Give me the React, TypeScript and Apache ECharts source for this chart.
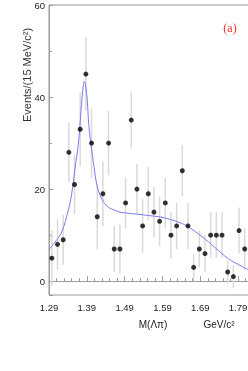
import React, { useEffect, useRef } from "react";
import * as echarts from "echarts";

const X0 = 1.29;
const xTickLabels = ["1.29", "1.39", "1.49", "1.59", "1.69", "1.79"];
const yTickLabels = ["0", "20", "40", "60"];
const binCenters = [
  1.2975, 1.3125, 1.3275, 1.3425, 1.3575, 1.3725, 1.3875, 1.4025, 1.4175, 1.4325,
  1.4475, 1.4625, 1.4775, 1.4925, 1.5075, 1.5225, 1.5375, 1.5525, 1.5675, 1.5825,
  1.5975, 1.6125, 1.6275, 1.6425, 1.6575, 1.6725, 1.6875, 1.7025, 1.7175, 1.7325,
  1.7475, 1.7625, 1.7775, 1.7925, 1.8075,
];
const events = [
  5, 8, 9, 28, 21, 33, 45, 30, 14, 19, 30, 7, 7, 17, 35, 20, 12, 19, 15, 13, 17, 10,
  12, 24, 12, 3, 7, 6, 10, 10, 10, 2, 1, 11, 7,
];
const errors = [
  6, 5.5, 5.5, 6.5, 6.5, 8, 8, 7.5, 7, 7, 7, 5, 5.3, 5.6, 6, 5.5, 5.8, 5.8, 5.5, 5.4,
  5.5, 5, 5, 5.5, 5, 3, 4, 4, 5, 5, 5, 2.5, 2.5, 5, 4.5,
];
const fitMass = [
  1.29, 1.306, 1.3236, 1.341, 1.35, 1.3588, 1.3675, 1.3747, 1.3792, 1.3834, 1.3897,
  1.3958, 1.403, 1.4072, 1.4162, 1.4294, 1.4469, 1.4646, 1.4778, 1.5395, 1.5924,
  1.6366, 1.6585, 1.694, 1.7291, 1.7643, 1.7998, 1.8164,
];
const fitValue = [
  6.9, 8.5, 10.7, 15.4, 19, 24.5, 29.8, 37, 41.3, 43.4, 40.6, 33.4, 28.5, 26, 21.1,
  17.9, 16.1, 15.4, 15, 14.4, 13.8, 12.7, 11.8, 9.7, 7.3, 4.9, 3.2, 2.5,
];

const SANS = "'Liberation Sans Narrow', 'Liberation Sans', Arial, sans-serif";

export default function App() {
  const ref = useRef<HTMLDivElement>(null);
  useEffect(() => {
    if (!ref.current) return;
    const chart = echarts.init(ref.current, null, { renderer: "svg" });
    const pts = binCenters.map((m, i) => [m - X0, events[i]]);
    const bars = binCenters.map((m, i) => [m - X0, events[i], errors[i]]);
    const fit = fitMass.map((m, i) => [m - X0, fitValue[i]]);
    chart.setOption({
      animation: false,
      grid: {
        left: 49,
        top: 3,
        width: 208,
        height: 292,
        show: true,
        borderColor: "#9a9a9a",
        borderWidth: 1,
        backgroundColor: "transparent",
      },
      xAxis: {
        type: "value",
        min: 0,
        max: 0.55,
        interval: 0.1,
        axisLine: { show: true, lineStyle: { color: "#9a9a9a", width: 1 } },
        axisTick: { show: true, inside: true, length: 5, lineStyle: { color: "#9a9a9a" } },
        minorTick: { show: true, splitNumber: 5, length: 3, lineStyle: { color: "#9a9a9a" } },
        splitLine: { show: false },
        axisLabel: {
          margin: 7,
          color: "#222",
          fontSize: 9.5,
          fontFamily: SANS,
          formatter: (v: number) => {
            const idx = Math.round(v / 0.1);
            return xTickLabels[idx] ?? "";
          },
        },
      },
      yAxis: {
        type: "value",
        min: -3,
        max: 60,
        splitNumber: 3,
        axisLine: { show: true, lineStyle: { color: "#9a9a9a", width: 1 } },
        axisTick: { show: true, inside: true, length: 4, lineStyle: { color: "#9a9a9a" } },
        minorTick: { show: true, splitNumber: 2, length: 3, lineStyle: { color: "#9a9a9a" } },
        splitLine: { show: false },
        axisLabel: {
          margin: 4,
          color: "#222",
          fontSize: 9.5,
          fontFamily: SANS,
          showMinLabel: false,
          formatter: (v: number) => {
            const idx = yTickLabels.indexOf(String(Math.round(v)));
            return Math.abs(v - Math.round(v)) < 1e-6 && idx >= 0 && v >= 0 ? yTickLabels[idx] : "";
          },
        },
      },
      series: [
        {
          type: "custom",
          data: bars,
          z: 1,
          renderItem: (params: any, api: any) => {
            const x = api.value(0);
            const y = api.value(1);
            const e = api.value(2);
            const top = api.coord([x, y + e]);
            const bot = api.coord([x, y - e]);
            return {
              type: "line",
              shape: { x1: top[0], y1: top[1], x2: bot[0], y2: bot[1] },
              style: { stroke: "#dadada", lineWidth: 1.5 },
            };
          },
        },
        {
          type: "line",
          data: fit,
          smooth: 0.4,
          showSymbol: false,
          z: 2,
          lineStyle: { color: "#7a7af2", width: 1 },
        },
        {
          type: "scatter",
          data: pts,
          symbol: "circle",
          symbolSize: 5,
          z: 3,
          itemStyle: { color: "#000" },
        },
      ],
      graphic: [
        {
          type: "text",
          x: 27,
          y: 75,
          rotation: Math.PI / 2,
          style: {
            text: "Events/(15 MeV/c²)",
            fill: "#333",
            font: `11px ${SANS}`,
            textAlign: "center",
            textVerticalAlign: "middle",
          },
        },
        {
          type: "text",
          x: 153,
          y: 324,
          style: {
            text: "M(Λπ)",
            fill: "#222",
            font: `10px ${SANS}`,
            textAlign: "center",
            textVerticalAlign: "middle",
          },
        },
        {
          type: "text",
          x: 219,
          y: 324,
          style: {
            text: "GeV/c²",
            fill: "#222",
            font: `10px ${SANS}`,
            textAlign: "center",
            textVerticalAlign: "middle",
          },
        },
        {
          type: "text",
          x: 230,
          y: 28,
          style: {
            text: "(a)",
            fill: "#ff2a2a",
            font: "12px 'Liberation Serif', 'DejaVu Serif', serif",
            textAlign: "center",
            textVerticalAlign: "middle",
          },
        },
      ],
    });
    return () => chart.dispose();
  }, []);
  return (
    <div
      ref={ref}
      style={{ position: "fixed", left: 0, top: 0, width: 300, height: 371 }}
    />
  );
}
